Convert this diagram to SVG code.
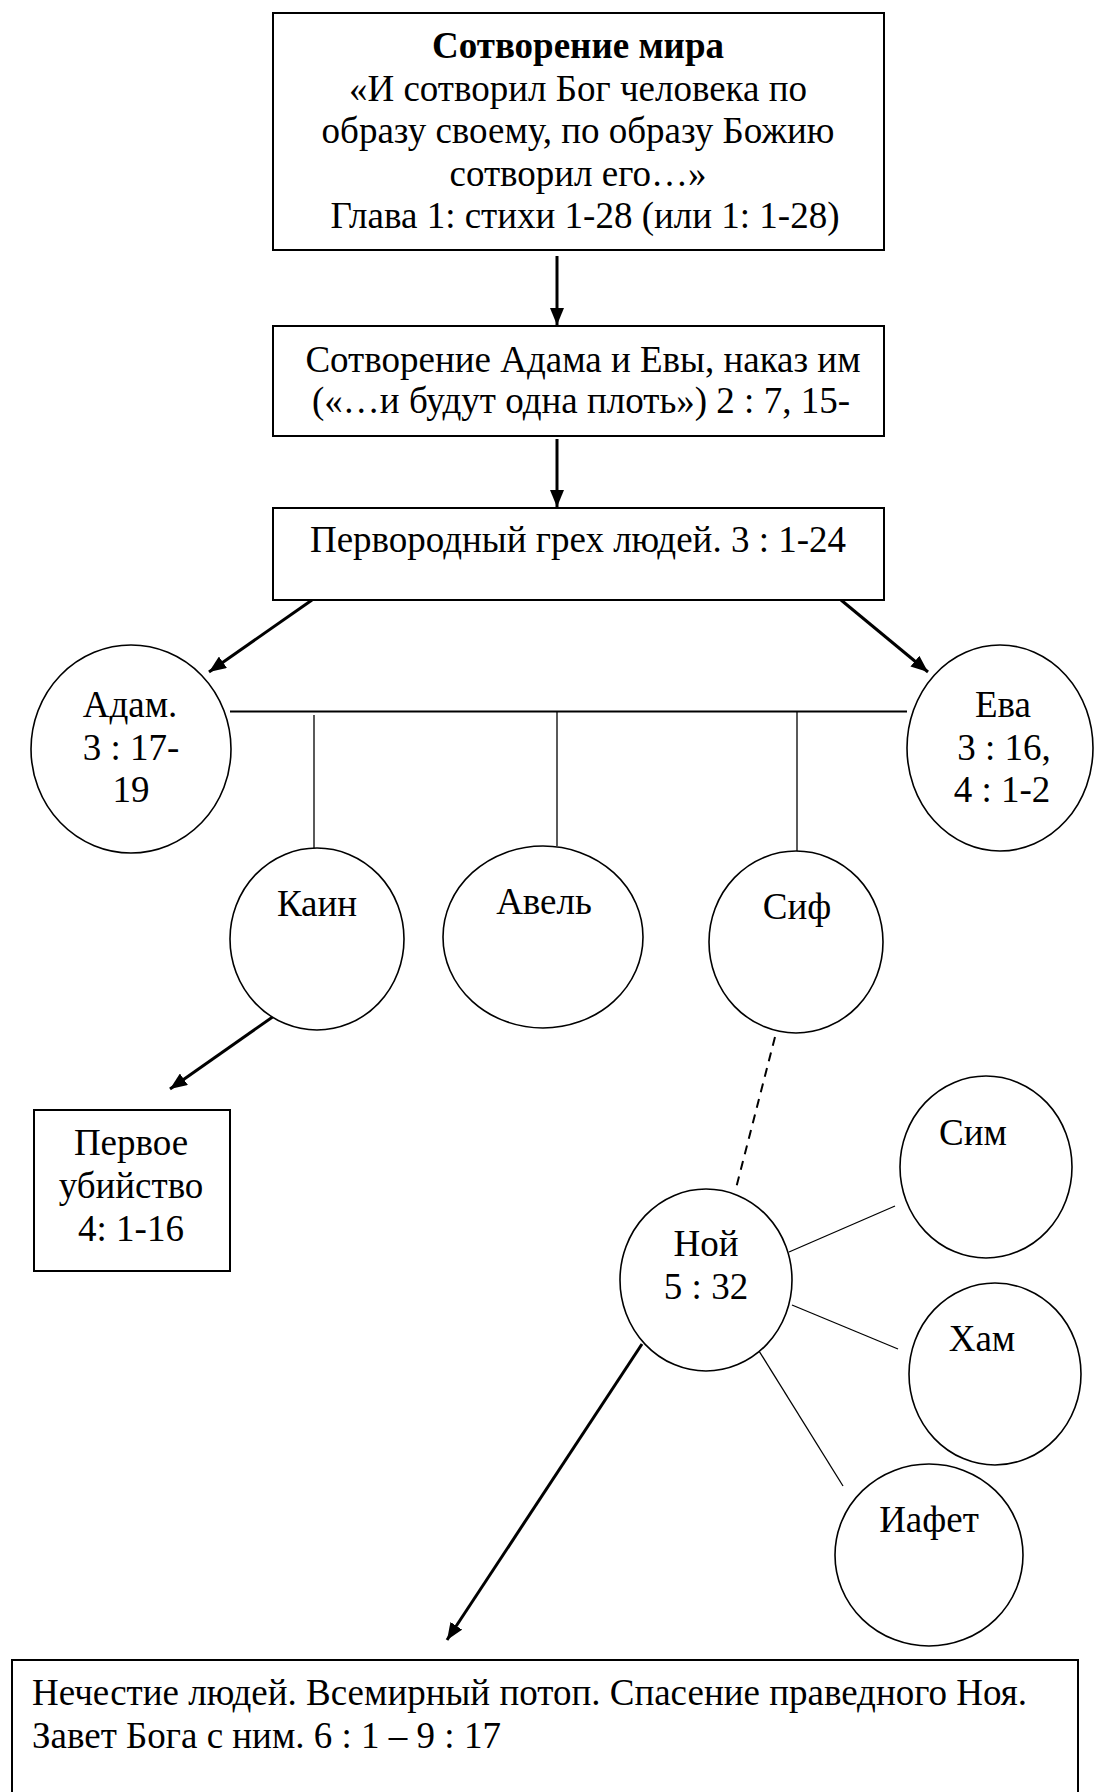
<svg xmlns="http://www.w3.org/2000/svg" width="1094" height="1792" viewBox="0 0 1094 1792">
<style>
  text { font-family: "Liberation Serif", "Times New Roman", serif; font-size: 37px; fill: #000; }
  .c { text-anchor: middle; }
  .b { font-weight: bold; }
  .box { fill: #fff; stroke: #000; stroke-width: 2; }
  .node { fill: #fff; stroke: #000; stroke-width: 1.6; }
  .thin { stroke: #000; stroke-width: 1.3; fill: none; }
  .arr { stroke: #000; stroke-width: 3; fill: none; marker-end: url(#ah); }
  .dash { stroke: #000; stroke-width: 2; fill: none; stroke-dasharray: 9 7; }
</style>
<defs>
  <marker id="ah" markerUnits="userSpaceOnUse" markerWidth="18" markerHeight="14" refX="17" refY="7" orient="auto">
    <path d="M0,0 L17,7 L0,14 z" fill="#000"/>
  </marker>
</defs>
<rect width="1094" height="1792" fill="#fff"/>

<g id="connectors">
  <line class="arr" x1="557" y1="256" x2="557" y2="325"/>
  <line class="arr" x1="557" y1="439" x2="557" y2="507"/>
  <line class="arr" x1="312" y1="600" x2="209" y2="672"/>
  <line class="arr" x1="841" y1="600" x2="928" y2="672"/>
  <line class="thin" x1="230" y1="711.5" x2="907" y2="711.5" style="stroke-width:1.8"/>
  <line class="thin" x1="314" y1="715" x2="314" y2="850"/>
  <line class="thin" x1="557" y1="712" x2="557" y2="846"/>
  <line class="thin" x1="797" y1="712" x2="797" y2="852"/>
  <line class="arr" x1="274" y1="1016" x2="170" y2="1089"/>
  <line class="dash" x1="775" y1="1037" x2="735" y2="1192"/>
  <line class="thin" x1="789" y1="1252" x2="895" y2="1206"/>
  <line class="thin" x1="792" y1="1305" x2="898" y2="1349"/>
  <line class="thin" x1="759" y1="1351" x2="843" y2="1486"/>
  <line class="arr" x1="642" y1="1344" x2="447" y2="1640"/>
</g>

<g id="creation">
  <rect class="box" x="273" y="13" width="611" height="237"/>
  <text class="c b" x="578" y="58">Сотворение мира</text>
  <text class="c" x="578" y="101">«И сотворил Бог человека по</text>
  <text class="c" x="578" y="143">образу своему, по образу Божию</text>
  <text class="c" x="578" y="186">сотворил его…»</text>
  <text class="c" x="585" y="228">Глава 1: стихи 1-28 (или 1: 1-28)</text>
</g>

<g id="adam-eve-creation">
  <rect class="box" x="273" y="326" width="611" height="110"/>
  <text class="c" x="583" y="372">Сотворение Адама и Евы, наказ им</text>
  <text class="c" x="581" y="413">(«…и будут одна плоть») 2 : 7, 15-</text>
</g>

<g id="original-sin">
  <rect class="box" x="273" y="508" width="611" height="92"/>
  <text class="c" x="578" y="552">Первородный грех людей. 3 : 1-24</text>
</g>

<g id="adam">
  <ellipse class="node" cx="131" cy="749" rx="100" ry="104"/>
  <text class="c" x="130" y="717">Адам.</text>
  <text class="c" x="131" y="760">3 : 17-</text>
  <text class="c" x="131" y="802">19</text>
</g>

<g id="eve">
  <ellipse class="node" cx="1000" cy="748" rx="93" ry="103"/>
  <text class="c" x="1003" y="717">Ева</text>
  <text class="c" x="1004" y="760">3 : 16,</text>
  <text class="c" x="1002" y="802">4 : 1-2</text>
</g>

<g id="cain">
  <ellipse class="node" cx="317" cy="939" rx="87" ry="91"/>
  <text class="c" x="317" y="916">Каин</text>
</g>

<g id="abel">
  <ellipse class="node" cx="543" cy="937" rx="100" ry="91"/>
  <text class="c" x="544" y="914">Авель</text>
</g>

<g id="seth">
  <ellipse class="node" cx="796" cy="942" rx="87" ry="91"/>
  <text class="c" x="797" y="919">Сиф</text>
</g>

<g id="first-murder">
  <rect class="box" x="34" y="1110" width="196" height="161"/>
  <text class="c" x="131" y="1155">Первое</text>
  <text class="c" x="131" y="1198">убийство</text>
  <text class="c" x="131" y="1241">4: 1-16</text>
</g>

<g id="noah">
  <ellipse class="node" cx="706" cy="1280" rx="86" ry="91"/>
  <text class="c" x="706" y="1256">Ной</text>
  <text class="c" x="706" y="1299">5 : 32</text>
</g>

<g id="shem">
  <ellipse class="node" cx="986" cy="1167" rx="86" ry="91"/>
  <text class="c" x="973" y="1145">Сим</text>
</g>

<g id="ham">
  <ellipse class="node" cx="995" cy="1374" rx="86" ry="91"/>
  <text class="c" x="982" y="1351">Хам</text>
</g>

<g id="japheth">
  <ellipse class="node" cx="929" cy="1555" rx="94" ry="91"/>
  <text class="c" x="929" y="1532">Иафет</text>
</g>

<g id="flood">
  <rect class="box" x="12" y="1660" width="1066" height="160"/>
  <text x="32" y="1705">Нечестие людей. Всемирный потоп. Спасение праведного Ноя.</text>
  <text x="32" y="1748">Завет Бога с ним. 6 : 1 – 9 : 17</text>
</g>
</svg>
